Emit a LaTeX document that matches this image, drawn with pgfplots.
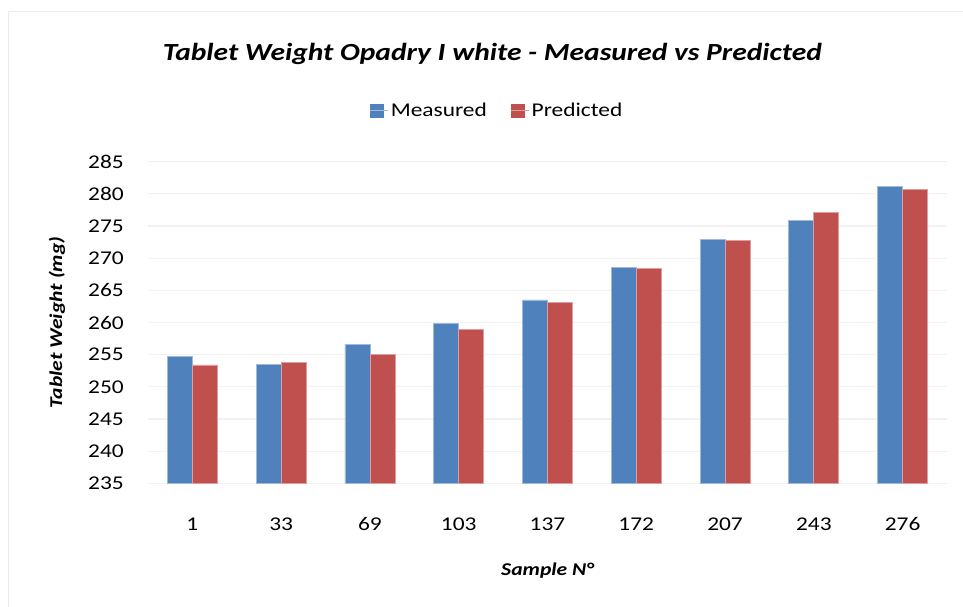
\documentclass[border=0pt]{standalone}
\usepackage{fontspec}
\setmainfont{Carlito}[FakeStretch=1.2]
\usepackage{pgfplots}
\pgfplotsset{compat=1.18}
\definecolor{mblue}{RGB}{79,129,189}
\definecolor{mred}{RGB}{192,80,77}
\definecolor{gridc}{RGB}{242,242,242}
\definecolor{framec}{RGB}{235,235,235}
\begin{document}
\begin{tikzpicture}
\useasboundingbox (0bp,0bp) rectangle (963bp,607bp);
\draw[framec, line width=1bp] (8bp,-10bp) rectangle (980bp,595bp);
\begin{axis}[
  at={(148bp,123.7bp)}, anchor=south west,
  scale only axis, width=799bp, height=321.6bp,
  ybar=0pt, bar width=25bp,
  xmin=-0.5, xmax=8.5, ymin=235, ymax=285,
  xtick={0,...,8},
  xticklabels={1,33,69,103,137,172,207,243,276},
  ytick={235,240,...,285},
  ymajorgrids, grid style={gridc, line width=1.2bp},
  axis line style={draw=none},
  major tick length=0pt,
  /pgf/number format/assume math mode=true,
  tick label style={font=\fontsize{19.5bp}{23bp}\selectfont, text=black},
  yticklabel style={anchor=east, inner sep=0pt, xshift=-24bp},
  xticklabel style={anchor=center, inner sep=0pt, yshift=-40.7bp},
  title={Tablet Weight Opadry I white - Measured vs Predicted},
  title style={at={(0.431,1.316)}, anchor=center, font=\fontsize{24.6bp}{30bp}\selectfont\bfseries\itshape},
  xlabel={Sample N°},
  xlabel style={at={(0.5,-0.27)}, anchor=center, font=\fontsize{18bp}{22bp}\selectfont\bfseries\itshape},
  ylabel={Tablet Weight (mg)},
  ylabel style={at={(-0.1139,0.5)}, anchor=center, font=\fontsize{18bp}{22bp}\selectfont\bfseries\itshape},
  legend columns=2,
  legend style={draw=none, fill=none, at={(0.437,1.158)}, anchor=center,
    font=\fontsize{19.5bp}{23bp}\selectfont,
    /tikz/every even column/.append style={column sep=22bp}},
  legend image code/.code={\fill[#1,draw=none] (0bp,-7bp) rectangle (14bp,7bp); \path (0bp,0bp) -- (18bp,0bp);},
]
\addplot[fill=mblue, draw=mblue!55!white, line width=0.8bp] coordinates {
(0,254.7) (1,253.5) (2,256.6) (3,259.9) (4,263.5) (5,268.6) (6,272.9) (7,275.9) (8,281.2)};
\addplot[fill=mred, draw=mred!55!white, line width=0.8bp] coordinates {
(0,253.4) (1,253.8) (2,255.1) (3,258.9) (4,263.1) (5,268.4) (6,272.7) (7,277.1) (8,280.7)};
\legend{Measured,Predicted}
\end{axis}
\end{tikzpicture}
\end{document}
